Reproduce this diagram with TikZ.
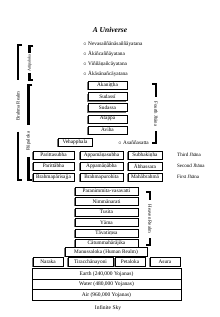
\documentclass[tikz,border=0pt]{standalone}
\usepackage{fontspec}
\setmainfont{Liberation Serif}
\usetikzlibrary{calc,positioning,shadows}

\begin{document}
\begin{tikzpicture}[x=1pt, y=-1pt,
  realm/.style={draw=black, fill=white, line width=0.6pt, minimum height=8pt,
    inner sep=0.5pt, font=\fontsize{5.3}{6}\selectfont,
    drop shadow={shadow xshift=-0.9pt, shadow yshift=-0.9pt, fill=black!55, opacity=1}},
  ground/.style={draw=black, line width=0.6pt, minimum width=149pt,
    minimum height=10.5pt, inner sep=0pt, font=\fontsize{5.5}{6}\selectfont},
  arupa/.style={anchor=west, inner sep=0pt, font=\fontsize{5.3}{6}\selectfont},
  jhana/.style={anchor=west, inner sep=0pt, font=\fontsize{5}{6}\selectfont},
  side/.style={font=\fontsize{4.8}{5}\selectfont, inner ysep=0.5pt},
  brk/.style={line width=2.6pt},
]
  \useasboundingbox (0,0) rectangle (220,317);

  \node[font=\fontsize{7.5}{8}\selectfont\bfseries\itshape] (title) at (110,30) {A Universe};

  % formless realms
  \node[arupa] (neva) at (83,44) {$\circ$ Nevasaññānāsaññāyatana};
  \node[arupa] (akin) at (83,54) {$\circ$ Ākiñcaññāyatana};
  \node[arupa] (vinn) at (83,64) {$\circ$ Viññāṇañcāyatana};
  \node[arupa] (akas) at (83,74) {$\circ$ Ākāsānañcāyatana};

  % fourth jhana
  \node[realm, minimum width=39pt] (akan) at (107.5,85.5) {Akaniṭṭha};
  \node[realm, minimum width=39pt] (sudi) at (107.5,96.6) {Sudassī};
  \node[realm, minimum width=39pt] (suda) at (107.5,107.7) {Sudassa};
  \node[realm, minimum width=39pt] (atap) at (107.5,118.8) {Atappa};
  \node[realm, minimum width=39pt] (avih) at (107.5,129.9) {Aviha};
  \node[realm, minimum width=34pt] (veha) at (75,142.5) {Vehapphala};
  \node[arupa] (asan) at (118,142.5) {$\circ$ Asaññasatta};

  % third, second, first jhana
  \node[realm, minimum width=41pt] (pars) at (53.5,155) {Parittasubha};
  \node[realm, minimum width=43pt] (apps) at (101.5,155) {Appamāṇasubha};
  \node[realm, minimum width=34pt] (subh) at (145,155) {Subhakiṇha};
  \node[realm, minimum width=41pt] (para) at (53.5,166) {Parittābha};
  \node[realm, minimum width=43pt] (appa) at (101.5,166) {Appamāṇābha};
  \node[realm, minimum width=34pt] (abha) at (145,166) {Ābhassara};
  \node[realm, minimum width=41pt] (bpar) at (53.5,177) {Brahmapārisajja};
  \node[realm, minimum width=43pt] (bpur) at (101.5,177) {Brahmapurohita};
  \node[realm, minimum width=34pt] (mahb) at (145,177) {Mahābrahmā};

  \node[jhana] (third) at (177,155) {Third Jhāna};
  \node[jhana] (second) at (177,166) {Second Jhāna};
  \node[jhana] (first) at (177,177) {First Jhāna};

  % heavens
  \node[realm, minimum width=63pt] (pnim) at (106.5,191) {Paranimmita-vasavatti};
  \node[realm, minimum width=63pt] (nimm) at (106.5,201.5) {Nimmānarati};
  \node[realm, minimum width=63pt] (tusi) at (106.5,212) {Tusita};
  \node[realm, minimum width=63pt] (yama) at (106.5,222.5) {Yāma};
  \node[realm, minimum width=63pt] (tava) at (106.5,233) {Tāvatiṃsa};
  \node[realm, minimum width=63pt] (catu) at (106.5,243.5) {Cātummahārājika};

  % human and lower realms
  \node[realm, minimum width=82pt, minimum height=9pt] (manu) at (106,252) {Manussaloka (Human Realm)};
  \node[realm, minimum width=30pt, minimum height=9pt, line width=0.8pt] (nara) at (48,262) {Naraka};
  \node[realm, minimum width=45pt, minimum height=9pt, line width=0.8pt] (tira) at (90.5,262) {Tiracchānayoni};
  \node[realm, minimum width=30pt, minimum height=9pt, line width=0.8pt] (peta) at (130,262) {Petaloka};
  \node[realm, minimum width=30pt, minimum height=9pt, line width=0.8pt] (asur) at (165,262) {Asura};

  \node[ground] (earth) at (106.5,274) {Earth (240,000 Yojanas)};
  \node[ground] (water) at (106.5,284.5) {Water (480,000 Yojanas)};
  \node[ground] (air) at (106.5,295) {Air (960,000 Yojanas)};
  \node[font=\fontsize{5.5}{6}\selectfont] (sky) at (108,308) {Infinite Sky};

  % brackets
  \coordinate (brT) at (18,45);
  \coordinate (brB) at (18,180);
  \node[side, rotate=90, inner xsep=11pt] (brL) at (18,106) {Brahma Realm};
  \draw[brk] ($(brT)+(4,0)$) -- (brT) -- (brL.east);
  \draw[brk] (brL.west) -- (brB) -- ($(brB)+(4,0)$);

  \coordinate (arT) at (29.5,46);
  \coordinate (arB) at (29.5,80);
  \node[side, rotate=90, inner xsep=1pt, font=\fontsize{4.2}{5}\selectfont] (arL) at (29.5,63) {Arūpaloka};
  \draw[brk] ($(arT)+(4,0)$) -- (arT) -- (arL.east);
  \draw[brk] (arL.west) -- (arB) -- ($(arB)+(4,0)$);

  \coordinate (ruT) at (28.5,85);
  \coordinate (ruB) at (28.5,180);
  \node[side, rotate=90, inner xsep=7pt] (ruL) at (28.5,141) {Rūpaloka};
  \draw[brk] ($(ruT)+(4,0)$) -- (ruT) -- (ruL.east);
  \draw[brk] (ruL.west) -- (ruB) -- ($(ruB)+(4,0)$);

  \coordinate (fjT) at (156,84);
  \coordinate (fjB) at (156,143);
  \node[side, rotate=-90, inner xsep=4.5pt] (fjL) at (156,114) {Fourth Jhāna};
  \draw[brk] ($(fjT)+(-4,0)$) -- (fjT) -- (fjL.west);
  \draw[brk] (fjL.east) -- (fjB) -- ($(fjB)+(-4,0)$);

  \coordinate (hvT) at (150,192);
  \coordinate (hvB) at (150,245);
  \node[side, rotate=-90, inner xsep=5pt] (hvL) at (150,219) {Heaven Realm};
  \draw[brk] ($(hvT)+(-4,0)$) -- (hvT) -- (hvL.west);
  \draw[brk] (hvL.east) -- (hvB) -- ($(hvB)+(-4,0)$);
\end{tikzpicture}
\end{document}
